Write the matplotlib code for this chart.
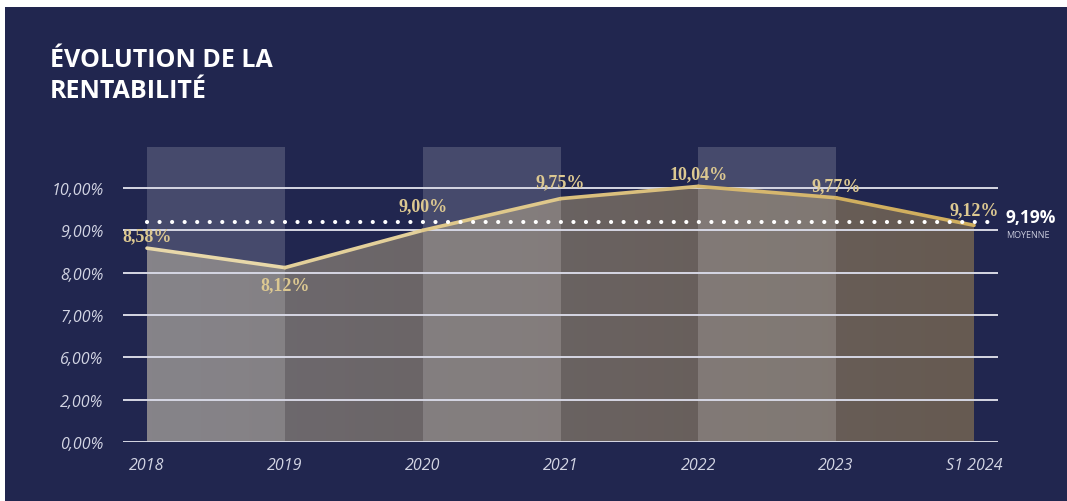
import numpy as np
import matplotlib
matplotlib.use("Agg")
import matplotlib.pyplot as plt
from matplotlib.patches import Rectangle
from matplotlib.collections import LineCollection
from matplotlib.colors import LinearSegmentedColormap, to_rgb

# ---------------- data ----------------
categories = ["2018", "2019", "2020", "2021", "2022", "2023", "S1 2024"]
rentabilite = [8.58, 8.12, 9.00, 9.75, 10.04, 9.77, 9.12]
value_labels = ["8,58%", "8,12%", "9,00%", "9,75%", "10,04%", "9,77%", "9,12%"]
moyenne = 9.19
moyenne_label = "9,19%"
ytick_values = [0, 2, 6, 7, 8, 9, 10]
ytick_labels = ["0,00%", "2,00%", "6,00%", "7,00%", "8,00%", "9,00%", "10,00%"]

# ---------------- style ----------------
NAVY = "#21264f"
GRID = "#d6d7e4"
GOLD_TXT = "#dcc891"
label_offsets = [12, -17, 25, 17, 13, 12, 16]   # px above (+) / below (-) the point

W, H = 1067, 502
fig = plt.figure(figsize=(W / 100, H / 100), dpi=100)
fig.patch.set_facecolor("white")
fig.patches.append(Rectangle((5 / W, 0), 1, (H - 8) / H, transform=fig.transFigure,
                             facecolor=NAVY, edgecolor="none", zorder=-10))

ax = fig.add_axes([123 / W, (H - 443) / H, (998 - 123) / W, (443 - 148) / H])
ax.set_facecolor("none")

# broken (evenly spaced) y axis through a FuncScale
scale_vals = np.array(ytick_values + [11], dtype=float)
scale_pos = np.arange(len(scale_vals), dtype=float)
fwd = lambda v: np.interp(v, scale_vals, scale_pos)
inv = lambda p: np.interp(p, scale_pos, scale_vals)
ax.set_yscale("function", functions=(fwd, inv))

x = np.arange(len(categories))
unit = 827 / 6
ax.set_xlim(-24 / unit, 6 + 24 / unit)
ax.set_ylim(0, 10.97)

# gradient area under the curve
poly = ax.fill_between(x, rentabilite, 0, facecolor="none", edgecolor="none")
cmap = LinearSegmentedColormap.from_list("g", ["#6e6b72", "#665a51"])
grad = np.linspace(0, 1, 256).reshape(1, -1)
im = ax.imshow(grad, cmap=cmap, extent=[0, 6, 0, 10.97], aspect="auto",
               zorder=1, interpolation="bilinear")
im.set_clip_path(poly.get_paths()[0], transform=ax.transData)

# light alternating bands
for i in range(0, len(categories) - 1, 2):
    ax.axvspan(x[i], x[i + 1], facecolor="white", alpha=0.17, lw=0, zorder=2)

# gridlines
for t in ytick_values:
    ax.axhline(t, color=GRID, lw=1.4, zorder=3)

# main line with gradient colours per segment
pts = np.column_stack([x, rentabilite])
segs = [pts[i:i + 2] for i in range(len(pts) - 1)]
c0, c1 = np.array(to_rgb("#eadcb0")), np.array(to_rgb("#cfab58"))
cols = [tuple(c0 + (c1 - c0) * (i + 0.5) / len(segs)) for i in range(len(segs))]
lc = LineCollection(segs, colors=cols, linewidths=2.6, zorder=4, capstyle="round",
                    joinstyle="round")
ax.add_collection(lc)

# dotted average line
ax.plot([0, 6 + 24 / unit], [moyenne, moyenne], color="white", lw=3.0,
        linestyle=(0, (0.01, 3.0)), dash_capstyle="round", zorder=5)
fig.text(1005 / W, 1 - 218 / H, moyenne_label, color="white", fontsize=12.5,
         fontweight="bold", family="Open Sans", va="center", ha="left")
fig.text(1006 / W, 1 - 236 / H, "MOYENNE", color="#c9cbdc", fontsize=6.5,
         family="Open Sans", va="center", ha="left")

# value labels
for xi, v, lab, off in zip(x, rentabilite, value_labels, label_offsets):
    ax.annotate(lab, xy=(xi, v), xytext=(0, off * 0.72), textcoords="offset points",
                ha="center", va="center", color=GOLD_TXT, fontsize=13,
                fontweight="bold", family="Liberation Serif", zorder=6)

# axes decoration
for s in ax.spines.values():
    s.set_visible(False)
ax.set_xticks(x, categories)
ax.set_yticks(ytick_values, ytick_labels)
ax.yaxis.set_minor_locator(matplotlib.ticker.NullLocator())
ax.tick_params(axis="both", length=0, colors="#d2d4e3")
ax.tick_params(axis="x", pad=11)
ax.tick_params(axis="y", pad=14)
for lab in ax.get_xticklabels() + ax.get_yticklabels():
    lab.set_family("Open Sans")
    lab.set_style("italic")
    lab.set_fontsize(11.5)
    lab.set_color("#d2d4e3")

# title
fig.text(50 / W, 1 - 48 / H, "ÉVOLUTION DE LA\nRENTABILITÉ", color="white",
         fontsize=18, fontweight="bold", family="Open Sans", va="top", ha="left",
         linespacing=1.3)

fig.savefig("out.png", dpi=100, facecolor=fig.get_facecolor())
